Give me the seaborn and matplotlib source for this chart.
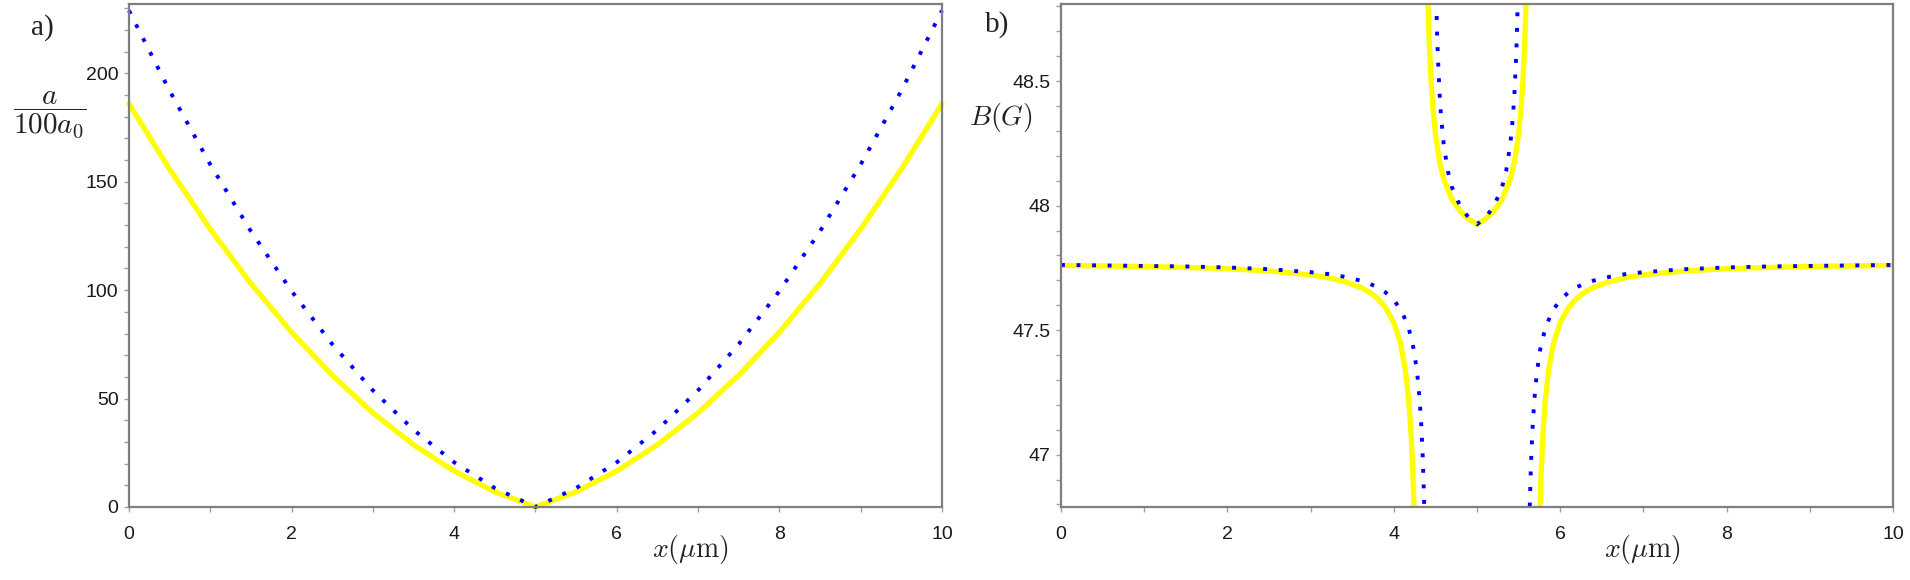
import matplotlib
matplotlib.use("Agg")
import matplotlib.pyplot as plt
import seaborn as sns
from matplotlib.ticker import MultipleLocator

# ---- panel a): scattering length a / (100 a0) versus x (um)
x_a = [0, 0.5, 1, 1.5, 2, 2.5, 3, 3.5, 4, 4.5, 5,
       5.5, 6, 6.5, 7, 7.5, 8, 8.5, 9, 9.5, 10]
a_yellow = [186, 155.8, 128.2, 103.1, 80.6, 60.8, 43.4, 28.7, 16.6, 7.0, 0,
            7.0, 16.6, 28.7, 43.4, 60.8, 80.6, 103.1, 128.2, 155.8, 186]
a_blue = [229, 192.0, 158.0, 127.2, 99.6, 75.1, 53.8, 35.6, 20.6, 8.7, 0,
          8.7, 20.6, 35.6, 53.8, 75.1, 99.6, 127.2, 158.0, 192.0, 229]

# ---- panel b): field B (G) versus x (um), three branches per curve
yel_left_x = [0, 0.5, 1, 1.5, 2, 2.5, 3, 3.2, 3.4, 3.6, 3.7, 3.8, 3.9, 4.0,
              4.08, 4.14, 4.18, 4.21, 4.23, 4.243]
yel_left_B = [47.760, 47.758, 47.756, 47.752, 47.747, 47.738, 47.722, 47.712,
              47.696, 47.672, 47.654, 47.629, 47.591, 47.531, 47.448, 47.338,
              47.216, 47.068, 46.919, 46.785]
yel_mid_x = [4.411, 4.42, 4.43, 4.45, 4.47, 4.5, 4.55, 4.6, 4.7, 4.8, 4.9, 5.0,
             5.1, 5.2, 5.3, 5.4, 5.45, 5.5, 5.53, 5.55, 5.57, 5.58, 5.589]
yel_mid_B = [48.813, 48.714, 48.624, 48.489, 48.391, 48.288, 48.177, 48.107,
             48.024, 47.977, 47.946, 47.925, 47.946, 47.977, 48.024, 48.107,
             48.177, 48.288, 48.391, 48.489, 48.624, 48.714, 48.813]
yel_right_x = [5.757, 5.77, 5.79, 5.82, 5.86, 5.92, 6.0, 6.1, 6.2, 6.3, 6.4,
               6.6, 6.8, 7.0, 7.5, 8.0, 8.5, 9.0, 9.5, 10.0]
yel_right_B = [46.785, 46.919, 47.068, 47.216, 47.338, 47.448, 47.531, 47.591,
               47.629, 47.654, 47.672, 47.696, 47.712, 47.722, 47.738, 47.747,
               47.752, 47.756, 47.758, 47.760]

blue_left_x = [0, 0.5, 1, 1.5, 2, 2.5, 3, 3.2, 3.4, 3.6, 3.7, 3.8, 3.9, 4.0,
               4.1, 4.18, 4.24, 4.28, 4.31, 4.33, 4.345, 4.355, 4.366]
blue_left_B = [47.762, 47.760, 47.758, 47.756, 47.752, 47.745, 47.733, 47.726,
               47.715, 47.699, 47.688, 47.673, 47.652, 47.622, 47.573, 47.507,
               47.423, 47.331, 47.224, 47.121, 47.015, 46.923, 46.792]
blue_mid_x = [4.51, 4.52, 4.53, 4.55, 4.57, 4.6, 4.65, 4.7, 4.8, 4.9, 5.0,
              5.1, 5.2, 5.3, 5.35, 5.4, 5.43, 5.45, 5.47, 5.48, 5.49]
blue_mid_B = [48.824, 48.696, 48.596, 48.451, 48.350, 48.246, 48.139, 48.073,
              47.996, 47.952, 47.925, 47.952, 47.996, 48.073, 48.139, 48.246,
              48.350, 48.451, 48.596, 48.696, 48.824]
blue_right_x = [5.634, 5.645, 5.655, 5.67, 5.69, 5.72, 5.76, 5.82, 5.9, 6.0,
                6.1, 6.2, 6.3, 6.4, 6.6, 6.8, 7.0, 7.5, 8.0, 8.5, 9.0, 9.5, 10.0]
blue_right_B = [46.792, 46.923, 47.015, 47.121, 47.224, 47.331, 47.423, 47.507,
                47.573, 47.622, 47.652, 47.673, 47.688, 47.699, 47.715, 47.726,
                47.733, 47.745, 47.752, 47.756, 47.758, 47.760, 47.762]

sns.set_style("white")
plt.rcParams["mathtext.fontset"] = "cm"
plt.rcParams["font.family"] = ["Liberation Sans", "DejaVu Sans"]

YELLOW = "#ffff00"
BLUE = "#0000ff"
SPINE = "#7f7f7f"


def solid(ax, xs, ys):
    sns.lineplot(x=xs, y=ys, ax=ax, color=YELLOW, linewidth=3.8,
                 estimator=None, sort=False, clip_on=False)


def dotted(ax, xs, ys):
    sns.lineplot(x=xs, y=ys, ax=ax, color=BLUE, linewidth=2.8,
                 estimator=None, sort=False, clip_on=False)
    line = ax.lines[-1]
    line.set_dashes((1, 3.0))
    line.set_dash_capstyle("butt")


def style_axes(ax):
    for sp in ax.spines.values():
        sp.set_visible(True)
        sp.set_color(SPINE)
        sp.set_linewidth(1.6)
    ax.tick_params(which="both", direction="out", length=3.5, width=1,
                   color="#a0a0a0", labelsize=14, labelcolor="#1a1a1a",
                   left=True, bottom=True, top=False, right=False)
    ax.tick_params(axis="x", which="both", pad=10)
    ax.tick_params(axis="y", which="both", pad=4)
    ax.set_xlim(0, 10)
    ax.xaxis.set_major_locator(MultipleLocator(2))
    ax.xaxis.set_minor_locator(MultipleLocator(1))
    ax.set_xlabel("")
    ax.set_ylabel("")


fig = plt.figure(figsize=(19.1, 5.8), dpi=100)
ax1 = fig.add_axes([0.0675, 0.1259, 0.4257, 0.8672])
ax2 = fig.add_axes([0.5555, 0.1259, 0.4356, 0.8672])

solid(ax1, x_a, a_yellow)
dotted(ax1, x_a, a_blue)
style_axes(ax1)
ax1.set_ylim(0, 232)
ax1.yaxis.set_major_locator(MultipleLocator(50))
ax1.yaxis.set_minor_locator(MultipleLocator(10))

for xs, ys in ((yel_left_x, yel_left_B), (yel_mid_x, yel_mid_B),
               (yel_right_x, yel_right_B)):
    solid(ax2, xs, ys)
for xs, ys in ((blue_left_x, blue_left_B), (blue_mid_x, blue_mid_B),
               (blue_right_x, blue_right_B)):
    dotted(ax2, xs, ys)
for ln in ax2.lines:
    ln.set_clip_on(True)
style_axes(ax2)
ax2.set_ylim(46.79, 48.81)
ax2.yaxis.set_minor_locator(MultipleLocator(0.1))
ax2.set_yticks([47, 47.5, 48, 48.5])
ax2.set_yticklabels(["47", "47.5", "48", "48.5"])

# labels
fig.text(0.0262, 0.8017, r"$\dfrac{a}{100a_0}$", fontsize=21,
         ha="center", va="center", color="#222222")
fig.text(0.524, 0.798, r"$B(G)$", fontsize=20, ha="center", va="center",
         color="#222222")
fig.text(0.3613, 0.0534, r"$x(\mu\mathrm{m})$", fontsize=20, ha="center",
         va="center", color="#222222")
fig.text(0.860, 0.0534, r"$x(\mu\mathrm{m})$", fontsize=20, ha="center",
         va="center", color="#222222")
fig.text(0.022, 0.953, "a)", fontsize=21, family="Liberation Serif",
         ha="center", va="center", color="#222222")
fig.text(0.522, 0.957, "b)", fontsize=21, family="Liberation Serif",
         ha="center", va="center", color="#222222")

fig.savefig("out.png", dpi=100, facecolor="white")
